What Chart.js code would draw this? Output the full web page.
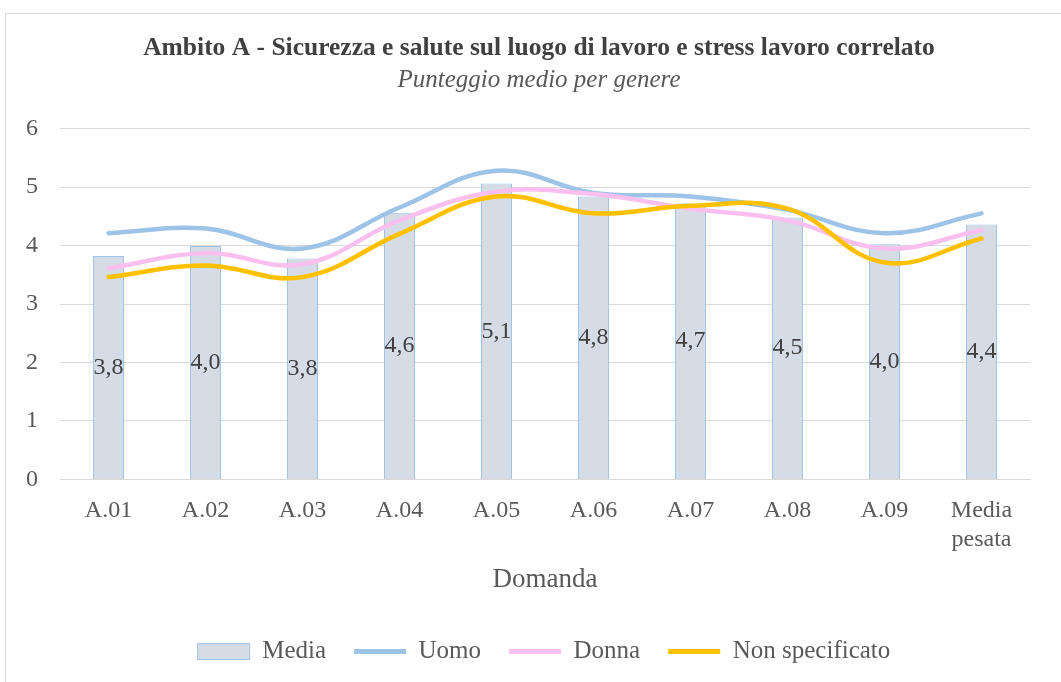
<!DOCTYPE html>
<html>
<head>
<meta charset="utf-8">
<script src="https://cdn.jsdelivr.net/npm/chart.js@4"></script>
<style>
  html, body { margin: 0; padding: 0; background: #fff; }
  #wrap { position: relative; width: 1061px; height: 682px; overflow: hidden; }
  #frame { position: absolute; left: 5px; top: 13px; width: 1100px; height: 700px; border: 1px solid #d9d9d9; box-sizing: border-box; }
  canvas { position: absolute; left: 0; top: 0; }
</style>
</head>
<body>
<div id="wrap">
  <div id="frame"></div>
  <canvas id="chart" width="1061" height="682"></canvas>
</div>
<script>
const categories = ["A.01", "A.02", "A.03", "A.04", "A.05", "A.06", "A.07", "A.08", "A.09", ["Media", "pesata"]];
const media = [3.82, 3.99, 3.78, 4.56, 5.06, 4.84, 4.72, 4.48, 4.02, 4.36];
const uomo = [4.21, 4.29, 3.95, 4.65, 5.28, 4.90, 4.84, 4.61, 4.21, 4.55];
const donna = [3.61, 3.87, 3.68, 4.43, 4.92, 4.88, 4.63, 4.43, 3.95, 4.26];
const nonSpecificato = [3.46, 3.66, 3.46, 4.20, 4.84, 4.55, 4.68, 4.63, 3.71, 4.12];

const serif = "'Liberation Serif', 'DejaVu Serif', serif";

// labels in the middle of each bar
const barLabels = {
  id: "barLabels",
  afterDatasetsDraw(chart) {
    const meta = chart.getDatasetMeta(0);
    const ctx = chart.ctx;
    ctx.save();
    ctx.font = "24px " + serif;
    ctx.fillStyle = "#404040";
    ctx.textAlign = "center";
    ctx.textBaseline = "middle";
    meta.data.forEach((bar, i) => {
      const y = (bar.y + bar.base) / 2;
      ctx.fillText(media[i].toFixed(1).replace(".", ","), bar.x, y);
    });
    ctx.restore();
  }
};

// title + legend are centred on the whole frame in the original, not on the plot
const centreOnFrame = {
  id: "centreOnFrame",
  afterLayout(chart) {
    chart.boxes.forEach(b => {
      if (b instanceof Chart.Scale) return;
      if (b.position === "top" || b.position === "bottom") {
        const shift = b === chart.legend ? 27 : 22;
        b.left += shift;
        b.right += shift;
      }
    });
  }
};

const ctx = document.getElementById("chart").getContext("2d");
new Chart(ctx, {
  data: {
    labels: categories,
    datasets: [
      {
        type: "bar",
        label: "Media",
        data: media,
        backgroundColor: "#D6DCE5",
        borderColor: "#9DC3E6",
        borderWidth: 1,
        barPercentage: 0.32,
        categoryPercentage: 1,
        order: 4
      },
      {
        type: "line",
        label: "Uomo",
        data: uomo,
        borderColor: "#9DC3E6",
        backgroundColor: "#9DC3E6",
        borderWidth: 4.5,
        tension: 0.4,
        pointRadius: 0,
        borderCapStyle: "round",
        order: 3
      },
      {
        type: "line",
        label: "Donna",
        data: donna,
        borderColor: "#F9C0EF",
        backgroundColor: "#F9C0EF",
        borderWidth: 4.5,
        tension: 0.4,
        pointRadius: 0,
        borderCapStyle: "round",
        order: 2
      },
      {
        type: "line",
        label: "Non specificato",
        data: nonSpecificato,
        borderColor: "#FFC000",
        backgroundColor: "#FFC000",
        borderWidth: 4.5,
        tension: 0.4,
        pointRadius: 0,
        borderCapStyle: "round",
        order: 1
      }
    ]
  },
  options: {
    responsive: false,
    animation: false,
    layout: { padding: { left: 4, right: 31, top: 33, bottom: 8 } },
    plugins: {
      title: {
        display: true,
        text: "Ambito A - Sicurezza e salute sul luogo di lavoro e stress lavoro correlato",
        font: { family: serif, size: 25.5, weight: "bold", lineHeight: 1.2 },
        color: "#404040",
        padding: { top: 0, bottom: 2 }
      },
      subtitle: {
        display: true,
        text: "Punteggio medio per genere",
        font: { family: serif, size: 25, style: "italic", lineHeight: 1.2 },
        color: "#595959",
        padding: { top: 0, bottom: 33 }
      },
      legend: {
        position: "bottom",
        labels: {
          font: { family: serif, size: 25 },
          color: "#595959",
          usePointStyle: true,
          pointStyleWidth: 52,
          boxWidth: 52,
          boxHeight: 16,
          padding: 28,
          sort: (a, b) => a.datasetIndex - b.datasetIndex,
          generateLabels(chart) {
            const items = Chart.defaults.plugins.legend.labels.generateLabels(chart);
            items.forEach(it => {
              if (it.datasetIndex === 0) {
                it.pointStyle = "rect";
                it.lineWidth = 1;
              } else {
                it.pointStyle = "line";
                it.lineWidth = 5;
              }
            });
            return items;
          }
        }
      },
      tooltip: { enabled: false }
    },
    scales: {
      x: {
        grid: { display: false },
        border: { color: "#d9d9d9" },
        ticks: { font: { family: serif, size: 24, lineHeight: 1.2 }, color: "#595959", padding: 9, maxRotation: 0 },
        title: { display: true, text: "Domanda", font: { family: serif, size: 27, lineHeight: 1.0 }, color: "#595959", padding: { top: 3, bottom: 18 } }
      },
      y: {
        min: 0,
        max: 6,
        ticks: { stepSize: 1, font: { family: serif, size: 24 }, color: "#595959", padding: 22 },
        grid: { color: "#d9d9d9", drawTicks: false },
        border: { display: false }
      }
    }
  },
  plugins: [barLabels, centreOnFrame]
});
</script>
</body>
</html>
